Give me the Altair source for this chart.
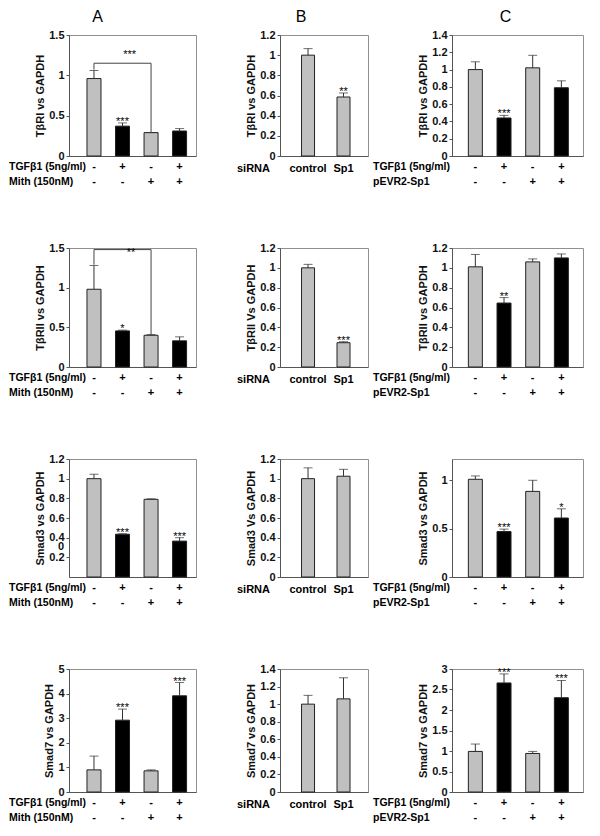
import altair as alt
import pandas as pd

FONT = "Liberation Sans"
GRAY = "#c0c0c0"
BLACK = "#000000"

# ---------------- categories / labels ----------------
A_x = [1, 2, 3, 4]
A_fill = ["g", "k", "g", "k"]
TGF_signs = ["-", "+", "-", "+"]
TRT_signs = ["-", "-", "+", "+"]
A_lab1 = "TGFβ1 (5ng/ml)"
A_lab2 = "Mith (150nM)"

B_x = [1, 2]
B_fill = ["g", "g"]
B_cats = ["control", "Sp1"]
B_lab = "siRNA"

C_x = [1, 2, 3, 4]
C_fill = ["g", "k", "g", "k"]
C_lab1 = "TGFβ1 (5ng/ml)"
C_lab2 = "pEVR2-Sp1"

col_letters = ["A", "B", "C"]

# ---------------- values (mean, error, significance) ----------------
A1_mean = [0.96, 0.37, 0.29, 0.31]
A1_err = [0.10, 0.04, 0.00, 0.03]
A1_sig = ["", "***", "", ""]
A2_mean = [0.98, 0.455, 0.40, 0.33]
A2_err = [0.30, 0.01, 0.01, 0.05]
A2_sig = ["", "*", "", ""]
A3_mean = [1.00, 0.435, 0.79, 0.365]
A3_err = [0.045, 0.005, 0.005, 0.035]
A3_sig = ["", "***", "", "***"]
A4_mean = [0.90, 2.92, 0.86, 3.91]
A4_err = [0.56, 0.45, 0.04, 0.54]
A4_sig = ["", "***", "", "***"]

B1_mean = [1.00, 0.585]
B1_err = [0.065, 0.04]
B1_sig = ["", "**"]
B2_mean = [1.00, 0.245]
B2_err = [0.035, 0.01]
B2_sig = ["", "***"]
B3_mean = [1.00, 1.025]
B3_err = [0.11, 0.07]
B3_sig = ["", ""]
B4_mean = [1.00, 1.06]
B4_err = [0.10, 0.24]
B4_sig = ["", ""]

C1_mean = [1.00, 0.44, 1.02, 0.79]
C1_err = [0.09, 0.03, 0.145, 0.08]
C1_sig = ["", "***", "", ""]
C2_mean = [1.01, 0.645, 1.06, 1.10]
C2_err = [0.125, 0.055, 0.03, 0.04]
C2_sig = ["", "**", "", ""]
C3_mean = [1.01, 0.47, 0.885, 0.61]
C3_err = [0.035, 0.025, 0.115, 0.095]
C3_sig = ["", "***", "", "*"]
C4_mean = [0.99, 2.66, 0.94, 2.30]
C4_err = [0.18, 0.22, 0.05, 0.42]
C4_sig = ["", "***", "", "***"]

# significance brackets (column A, rows 1 and 2)
A1_bracket = {"x1": 1, "x2": 3, "y": 1.15, "yl": 1.07, "yr": 0.29, "sig": "***", "sx": 2.25, "sy": 1.29}
A2_bracket = {"x1": 1, "x2": 3, "y": 1.48, "yl": 1.29, "yr": 0.41, "sig": "**", "sx": 2.3, "sy": 1.47}

# axes
T_A12 = [0, 0.5, 1, 1.5]
T_12 = [0, 0.2, 0.4, 0.6, 0.8, 1, 1.2]
T_14 = [0, 0.2, 0.4, 0.6, 0.8, 1, 1.2, 1.4]
T_A3 = [0.2, 0.4, 0.6, 0.8, 1, 1.2]
T_A4 = [0, 1, 2, 3, 4, 5]
T_C3 = [0, 0.5, 1]
T_C4 = [0, 0.5, 1, 1.5, 2, 2.5, 3]

row_h = [121, 119, 118, 123]
col_w = {"A": 127, "B": 88, "C": 131}
xdom = {"A": [0.3, 4.4], "B": [0.35, 2.55], "C": [0.36, 4.58]}
bar_size = {"A": 14, "B": 13, "C": 14}
title_dx = {"A": -35, "B": -23, "C": -12}


def panel(col, row, mean, err, sig, ymax, ticks, ytitle, bracket=None, stray_zero=None):
    w = col_w[col]
    h = row_h[row]
    if col == "B":
        xs, fills = B_x, B_fill
    elif col == "A":
        xs, fills = A_x, A_fill
    else:
        xs, fills = C_x, C_fill
    df = pd.DataFrame({
        "x": xs,
        "m": mean,
        "e": [m + e for m, e in zip(mean, err)],
        "f": fills,
        "s": sig,
    })
    xsc = alt.Scale(domain=xdom[col], nice=False, zero=False)
    ysc = alt.Scale(domain=[0, ymax], nice=False, zero=True)
    xax = alt.Axis(labels=False, ticks=False, title=None, grid=False, domainColor="#555")
    yax = alt.Axis(values=ticks, format="~g", title=ytitle, grid=False, titlePadding=3)

    def X(field="x:Q"):
        return alt.X(field, scale=xsc, axis=xax, title=None)

    def Y(field):
        return alt.Y(field, scale=ysc, axis=yax, title=ytitle)

    base = alt.Chart(df)
    bars = base.mark_bar(size=bar_size[col], stroke="#222", strokeWidth=1).encode(
        x=X(), y=Y("m:Q"),
        fill=alt.Fill("f:N", scale=alt.Scale(domain=["g", "k"], range=[GRAY, BLACK]), legend=None),
    )
    erule = base.mark_rule(color="#333", strokeWidth=1).encode(x=X(), y=Y("m:Q"), y2="e:Q")
    cap = base.mark_tick(orient="horizontal", size=9, thickness=1, color="#333").encode(x=X(), y=Y("e:Q"))
    stars = base.mark_text(font=FONT, fontSize=11, baseline="alphabetic", dy=2, color="#000").encode(
        x=X(), y=Y("e:Q"), text="s:N")
    layers = [bars, erule, cap, stars]

    if bracket is not None:
        bd = pd.DataFrame({
            "x": [bracket["x1"], bracket["x1"], bracket["x2"]],
            "x2": [bracket["x2"], bracket["x1"], bracket["x2"]],
            "y": [bracket["y"], bracket["yl"], bracket["yr"]],
            "y2": [bracket["y"], bracket["y"], bracket["y"]],
        })
        br = alt.Chart(bd).mark_rule(color="#444", strokeWidth=1).encode(
            x=X(), x2="x2:Q", y=Y("y:Q"), y2="y2:Q")
        sd = pd.DataFrame({"x": [bracket["sx"]], "y": [bracket["sy"]], "t": [bracket["sig"]]})
        bs = alt.Chart(sd).mark_text(font=FONT, fontSize=11, baseline="alphabetic", dy=6,
                                     color="#000").encode(x=X(), y=Y("y:Q"), text="t:N")
        layers += [br, bs]

    if stray_zero is not None:
        zd = pd.DataFrame({"y": [stray_zero], "t": ["0"]})
        zt = alt.Chart(zd).mark_text(font=FONT, fontSize=11, fontWeight="bold", align="right",
                                     baseline="middle", color="#111").encode(
            x=alt.value(-5), y=Y("y:Q"), text="t:N")
        layers.append(zt)

    if col == "B":
        cd = pd.DataFrame({"x": xs, "t": B_cats})
        ct = alt.Chart(cd).mark_text(font=FONT, fontSize=11, fontWeight="bold", baseline="middle",
                                     color="#000").encode(
            x=X(), y=alt.value(h + 13), text="t:N")
        lt = alt.Chart(pd.DataFrame({"t": [B_lab]})).mark_text(
            font=FONT, fontSize=11, fontWeight="bold", align="left", baseline="middle",
            color="#000").encode(
            x=alt.value(-43), y=alt.value(h + 13), text="t:N")
        layers += [ct, lt]
    else:
        lab2 = A_lab2 if col == "A" else C_lab2
        lx = -60 if col == "A" else -79
        sd = pd.DataFrame({"x": xs, "a": TGF_signs, "b": TRT_signs})
        s1 = alt.Chart(sd).mark_text(font=FONT, fontSize=11, fontWeight="bold", baseline="middle",
                                     color="#000").encode(
            x=X(), y=alt.value(h + 11), text="a:N")
        s2 = alt.Chart(sd).mark_text(font=FONT, fontSize=11, fontWeight="bold", baseline="middle",
                                     color="#000").encode(
            x=X(), y=alt.value(h + 26), text="b:N")
        l1 = alt.Chart(pd.DataFrame({"t": [A_lab1 if col == "A" else C_lab1]})).mark_text(
            font=FONT, fontSize=10.5, fontWeight="bold", align="left", baseline="middle",
            color="#000").encode(
            x=alt.value(lx), y=alt.value(h + 11), text="t:N")
        l2 = alt.Chart(pd.DataFrame({"t": [lab2]})).mark_text(
            font=FONT, fontSize=10.5, fontWeight="bold", align="left", baseline="middle",
            color="#000").encode(
            x=alt.value(lx), y=alt.value(h + 26), text="t:N")
        layers += [s1, s2, l1, l2]

    props = dict(width=w, height=h)
    if row == 0:
        props["title"] = alt.TitleParams(
            text=col_letters["ABC".index(col)], font=FONT, fontSize=16, fontWeight="normal",
            anchor="middle", frame="group", dx=title_dx[col], offset=4, color="black")
    return alt.layer(*layers).properties(**props)


panels = [
    panel("A", 0, A1_mean, A1_err, A1_sig, 1.5, T_A12, "TβRI vs GAPDH", bracket=A1_bracket),
    panel("B", 0, B1_mean, B1_err, B1_sig, 1.2, T_12, "TβRI vs GAPDH"),
    panel("C", 0, C1_mean, C1_err, C1_sig, 1.4, T_14, "TβRI vs GAPDH"),
    panel("A", 1, A2_mean, A2_err, A2_sig, 1.5, T_A12, "TβRII vs GAPDH", bracket=A2_bracket),
    panel("B", 1, B2_mean, B2_err, B2_sig, 1.2, T_12, "TβRII Vs GAPDH"),
    panel("C", 1, C2_mean, C2_err, C2_sig, 1.2, T_12, "TβRII vs GAPDH"),
    panel("A", 2, A3_mean, A3_err, A3_sig, 1.2, T_A3, "Smad3 vs GAPDH", stray_zero=0.31),
    panel("B", 2, B3_mean, B3_err, B3_sig, 1.2, T_12, "Smad3 Vs GAPDH"),
    panel("C", 2, C3_mean, C3_err, C3_sig, 1.22, T_C3, "Smad3 vs GAPDH"),
    panel("A", 3, A4_mean, A4_err, A4_sig, 5, T_A4, "Smad7 vs GAPDH"),
    panel("B", 3, B4_mean, B4_err, B4_sig, 1.4, T_14, "Smad7 vs GAPDH"),
    panel("C", 3, C4_mean, C4_err, C4_sig, 3, T_C4, "Smad7 vs GAPDH"),
]

chart = alt.concat(
    *panels, columns=3, bounds="flush", align="each",
    spacing={"row": 92, "column": 84},
).properties(padding=0, background="white").configure_view(
    stroke="#909090", strokeWidth=1
).configure_axis(
    labelFont=FONT, titleFont=FONT, labelFontSize=11, titleFontSize=11,
    labelFontWeight="bold", titleFontWeight="bold", labelColor="#111", titleColor="#111",
    domainColor="#555", tickColor="#555", tickSize=3, grid=False, labelPadding=2,
)

chart.save("out.html", embed_options={"renderer": "svg", "actions": False})
